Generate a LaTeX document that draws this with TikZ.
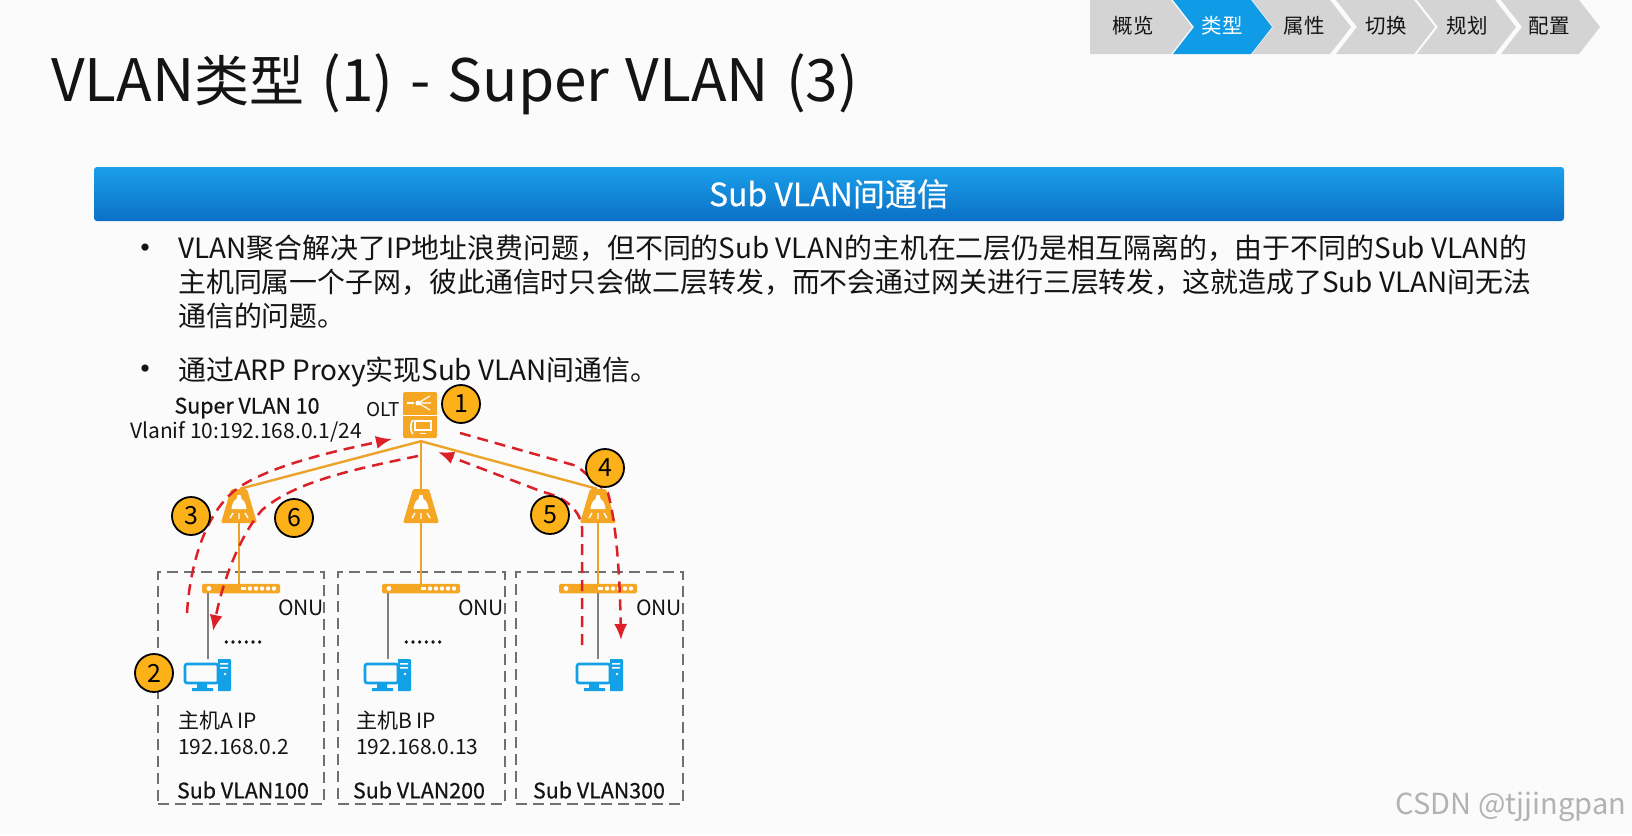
\documentclass[tikz,border=0pt]{standalone}
\usepackage{fontspec}
\setmainfont{Noto Sans CJK SC}
\usetikzlibrary{arrows.meta,calc}
\definecolor{bgc}{HTML}{FBFBFB}
\definecolor{org}{HTML}{F5A623}
\definecolor{orgl}{HTML}{EBA32A}
\definecolor{badge}{HTML}{FBB117}
\definecolor{redd}{HTML}{DC2028}
\definecolor{pcblue}{HTML}{12A0E6}
\definecolor{chev}{HTML}{D4D4D4}
\definecolor{chevb}{HTML}{0F9BE6}
\definecolor{bant}{HTML}{1A9FEA}
\definecolor{banb}{HTML}{0B70C6}
\definecolor{boxg}{HTML}{707070}
\definecolor{txt}{HTML}{141414}
\newcommand{\fs}[1]{\fontsize{#1}{#1}\selectfont}
\newcommand{\chevron}[2]{% left x, fill
  \fill[#2] (#1,0) -- ++(78,0) -- ++(21,27) -- ++(-21,27) -- ++(-78,0) -- ++(21,-27) -- cycle;
}
\tikzset{
  badgenode/.style={circle,draw=black,line width=1.8pt,fill=badge,minimum size=38pt,inner sep=0pt,text=black,font=\fs{25}},
  lbl/.style={inner sep=0pt,text=txt,font=\fs{21}},
  lblb/.style={inner sep=0pt,text=txt,font=\fs{21.4}\addfontfeatures{FakeBold=0.6}},
  body/.style={inner sep=0pt,anchor=base west,text=txt,font=\fs{27.9}},
  bul/.style={inner sep=0pt,anchor=base,text=txt,font=\fs{34}},
  chevtxt/.style={inner sep=0pt,font=\fs{20.5},text=txt},
  orgline/.style={draw=orgl,line width=2.4pt},
  grayline/.style={draw=gray,line width=1.8pt},
  redline/.style={draw=redd,line width=2.5pt,dash pattern=on 11pt off 7pt},
  redarrow/.style={redline,-{Latex[length=16pt,width=13pt]}},
  vbox/.style={draw=boxg,line width=1.8pt,dash pattern=on 11pt off 6pt},
  spico/.pic={
    \fill[org,rounded corners=1.5pt] (-8,-17) -- (8,-17) -- (18,17) -- (-18,17) -- cycle;
    \fill[white] (-1.5,-11) -- (1.5,-11) -- (2.5,-7) .. controls (6,-5) and (7,-1) .. (7.5,3) -- (-7.5,3) .. controls (-7,-1) and (-6,-5) .. (-2.5,-7) -- cycle;
    \draw[white,line width=1.4pt] (0,7) -- (0,13) (-6,7) -- (-9,12) (6,7) -- (9,12);
  },
  pcico/.pic={
    \fill[pcblue,rounded corners=1pt] (10,-16) rectangle (24,16);
    \fill[bgc] (8,-17) rectangle (10.5,17);
    \fill[bgc] (13,-12) rectangle (21,-10.5) (13,-8) rectangle (21,-6.5);
    \fill[bgc] (18,-1) circle (1.3);
    \draw[pcblue,line width=2.6pt,rounded corners=2pt,fill=bgc] (-22,-11) rectangle (11,8);
    \fill[pcblue] (-10,9) rectangle (0,13) (-15,13) rectangle (6,16);
  },
  oltico/.pic={
    \fill[org,rounded corners=1.5pt] (-17,-23) rectangle (17,23);
    \draw[white,line width=0.9pt] (-17,0) -- (17,0);
    \draw[white,line width=1.4pt,-{Latex[length=3pt,width=3pt]}] (-13,-12) -- (-5,-12);
    \fill[white] (-2,-12) circle (2.5);
    \draw[white,line width=1.2pt] (-2,-12) -- (10,-19) (-2,-12) -- (11,-12) (-2,-12) -- (10,-5);
    \draw[white,line width=1.6pt] (-5,6) rectangle (11,15) (-7,5) .. controls (-10,7) and (-10,17) .. (-7,19);
    \draw[white,line width=1.4pt] (0,18.5) -- (6,18.5);
  },
  onuico/.pic={
    \fill[white] (-32,0) circle (2.4);
    \fill[white] (0,-1.8) rectangle (5,1.8);
    \foreach \xx in {9,15,21,27,33}{\fill[white] (\xx,0) circle (2.2);}
  },
}
\begin{document}
\begin{tikzpicture}[x=1pt,y=-1pt]
\useasboundingbox (0,0) rectangle (1632,835);
\fill[bgc] (0,0) rectangle (1632,835);

% navigation chevrons
\fill[chev] (1090,0) -- (1171,0) -- (1192,27) -- (1171,54) -- (1090,54) -- cycle;
\chevron{1173}{chevb}
\chevron{1252}{chev}
\chevron{1336}{chev}
\chevron{1417}{chev}
\chevron{1501}{chev}
\node[chevtxt] (n1) at (1133,26) {概览};
\node[chevtxt,text=white] (n2) at (1222,26) {类型};
\node[chevtxt] (n3) at (1304,26) {属性};
\node[chevtxt] (n4) at (1386,26) {切换};
\node[chevtxt] (n5) at (1467,26) {规划};
\node[chevtxt] (n6) at (1549,26) {配置};

% title
\node[inner sep=0pt,anchor=base west,text=txt,font=\fs{58.5}] (title) at (51,101) {VLAN{\fs{55}类型}\hspace{17pt}(1)\hspace{17pt}-\hspace{17pt}Super\hspace{16pt}VLAN\hspace{17pt}(3)};

% banner
\node[inner sep=0pt,minimum width=1470pt,minimum height=54pt,rounded corners=3pt,top color=bant,bottom color=banb,text=white,font=\fs{32}\addfontfeatures{FakeBold=0.4}] (banner) at (829,194) {Sub VLAN间通信};

% bullets
\node[bul] (b1) at (145,260) {•};
\node[body] (l1) at (178,258) {VLAN聚合解决了IP地址浪费问题，但不同的Sub VLAN的主机在二层仍是相互隔离的，由于不同的Sub VLAN的};
\node[body] (l2) at (178,292) {主机同属一个子网，彼此通信时只会做二层转发，而不会通过网关进行三层转发，这就造成了Sub VLAN间无法};
\node[body] (l3) at (178,326) {通信的问题。};
\node[bul] (b2) at (145,381) {•};
\node[body] (l4) at (178,380) {通过ARP Proxy实现Sub VLAN间通信。};

% dashed group boxes
\node[vbox,inner sep=0pt,minimum width=166pt,minimum height=232pt] (gA) at (241,688) {};
\node[vbox,inner sep=0pt,minimum width=167pt,minimum height=232pt] (gB) at (421.5,688) {};
\node[vbox,inner sep=0pt,minimum width=167pt,minimum height=232pt] (gC) at (599.5,688) {};

% devices
\node[inner sep=0pt,minimum width=34pt,minimum height=46pt] (olt) at (420,415) {};
\pic at (olt) {oltico};
\coordinate (apex) at ($(olt.south)+(1,3)$);

\foreach \nn/\xx in {A/239,B/421,C/598}{
  \node[inner sep=0pt,minimum width=36pt,minimum height=34pt] (sp\nn) at (\xx,506) {};
}
\node[inner sep=0pt,minimum width=78pt,minimum height=9.5pt,fill=org,rounded corners=1.5pt] (onuA) at (241,588.5) {};
\node[inner sep=0pt,minimum width=78pt,minimum height=9.5pt,fill=org,rounded corners=1.5pt] (onuB) at (421,588.5) {};
\node[inner sep=0pt,minimum width=78pt,minimum height=9.5pt,fill=org,rounded corners=1.5pt] (onuC) at (598,588.5) {};
\node[inner sep=0pt,minimum width=47pt,minimum height=32pt] (pcA) at (207,675) {};
\node[inner sep=0pt,minimum width=47pt,minimum height=32pt] (pcB) at (387,675) {};
\node[inner sep=0pt,minimum width=47pt,minimum height=32pt] (pcC) at (599,675) {};

% connectors
\draw[orgline] (apex) -- ($(spA.north)+(1,0)$);
\draw[orgline] (apex) -- (spB.north);
\draw[orgline] (apex) -- ($(spC.north)+(-1,0)$);
\foreach \nn in {A,B,C}{
  \draw[orgline] (sp\nn.south) -- (sp\nn.south |- onu\nn.north);
  \pic at (sp\nn) {spico};
  \pic at (onu\nn) {onuico};
}
\draw[grayline] ($(onuA.south)+(-33,0)$) coordinate (pa) -- (pa |- pcA.north);
\draw[grayline] ($(onuB.south)+(-33,0)$) coordinate (pb) -- (pb |- pcB.north);
\draw[grayline] (onuC.south) -- (onuC.south |- pcC.north);
\foreach \nn in {A,B,C}{\pic at (pc\nn) {pcico};}

% red dashed flows
\coordinate (r3s) at (187,613);
\coordinate (r3m) at (238,488);
\coordinate (r3e) at (392,439);
\coordinate (r6s) at (418,456);
\coordinate (r6m) at (262,510);
\coordinate (r6e) at (213,631);
\coordinate (r4s) at (460,433);
\coordinate (r4m) at (577,466);
\coordinate (r4n) at (608,493);
\coordinate (r4e) at (621,640);
\coordinate (r5s) at (582,645);
\coordinate (r5m) at (582,527);
\coordinate (r5n) at (543,492);
\coordinate (r5e) at (438,452);
\draw[redarrow] (r3s) .. controls (190,565) and (205,512) .. (r3m) .. controls (270,466) and (330,452) .. (r3e);
\draw[redarrow] (r6s) .. controls (350,470) and (295,482) .. (r6m) .. controls (238,538) and (222,585) .. (r6e);
\draw[redarrow] (r4s) -- (r4m) -- (r4n) .. controls (618,530) and (620,590) .. (r4e);
\draw[redarrow] (r5s) -- (r5m) .. controls (580,510) and (565,497) .. (r5n) -- (r5e);

% badges
\node[badgenode] (c1) at (461,404) {1};
\node[badgenode] (c2) at (154,673) {2};
\node[badgenode] (c3) at (191,516) {3};
\node[badgenode] (c4) at (605,468) {4};
\node[badgenode] (c5) at (550,515) {5};
\node[badgenode] (c6) at (294,518) {6};

% labels
\node[lblb] (t1) at (247,408) {Super VLAN 10};
\node[lbl] (t2) at (246,432) {Vlanif 10:192.168.0.1/24};
\node[lbl,font=\fs{19}] (t3) at (383,410) {OLT};
\node[lbl] (oa) at (301,608) {ONU};
\node[lbl] (ob) at (481,608) {ONU};
\node[lbl] (oc) at (659,608) {ONU};
\node[lbl,font=\fs{24}\addfontfeatures{FakeBold=0.8}] (da) at (243,642) {......};
\node[lbl,font=\fs{24}\addfontfeatures{FakeBold=0.8}] (db) at (423,642) {......};
\node[lbl,anchor=base west] (ha) at (178,728) {主机A IP};
\node[lbl,anchor=base west] (ia) at (178,754) {192.168.0.2};
\node[lbl,anchor=base west] (hb) at (356,728) {主机B IP};
\node[lbl,anchor=base west] (ib) at (356,754) {192.168.0.13};
\node[lblb] (sa) at (243,790) {Sub VLAN100};
\node[lblb] (sb) at (419,790) {Sub VLAN200};
\node[lblb] (sc) at (599,790) {Sub VLAN300};

% watermark
\node[inner sep=0pt,text=gray!60,font=\fs{29}] (wm) at (1511,807) {CSDN @tjjingpan};
\end{tikzpicture}
\end{document}
